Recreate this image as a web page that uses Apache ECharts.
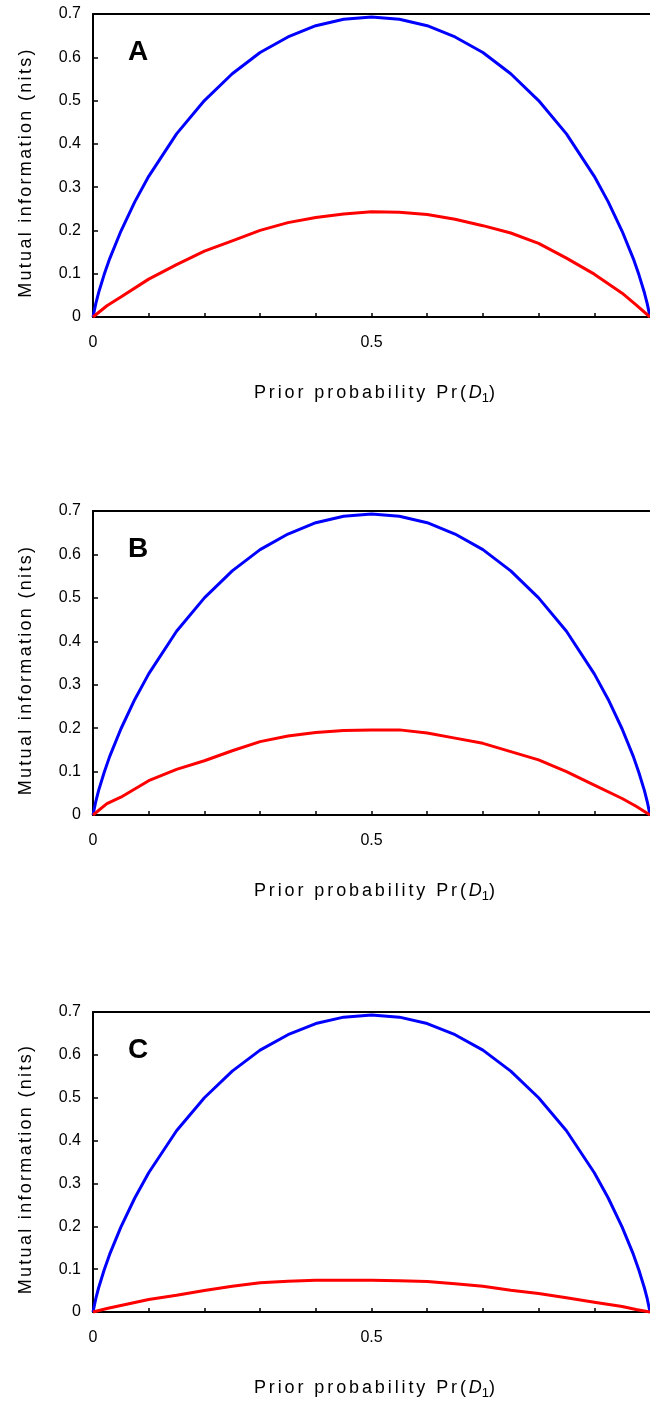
<!DOCTYPE html>
<html>
<head>
<meta charset="utf-8">
<style>
  html, body { margin: 0; padding: 0; background: #fff; overflow: hidden; }
  #chart { width: 650px; height: 1403px; }
</style>
<script src="https://cdn.jsdelivr.net/npm/echarts@6/dist/echarts.min.js"></script>
</head>
<body>
<div id="chart"></div>
<script>
// ---- Data ----
const panelLabels = ['A', 'B', 'C'];
const yTickValues = [0, 0.1, 0.2, 0.3, 0.4, 0.5, 0.6, 0.7];
const xTickLabels = ['0', '0.5', '1'];
const yAxisTitle = 'Mutual information (nits)';
const xAxisTitleMain = 'Prior probability Pr(';

// Blue curve (same in all panels)
const blueP = [0, 0.005, 0.01, 0.02, 0.03, 0.05, 0.075, 0.1, 0.15, 0.2, 0.25, 0.3, 0.35, 0.4, 0.45, 0.5,
               0.55, 0.6, 0.65, 0.7, 0.75, 0.8, 0.85, 0.9, 0.925, 0.95, 0.97, 0.98, 0.99, 0.995, 1];
const blueV = [0, 0.031, 0.056, 0.098, 0.135, 0.198, 0.266, 0.325, 0.423, 0.500, 0.562, 0.611, 0.647, 0.673, 0.688, 0.693,
               0.688, 0.673, 0.647, 0.611, 0.562, 0.500, 0.423, 0.325, 0.266, 0.198, 0.135, 0.098, 0.056, 0.031, 0];

// Red curves
const redP = [0, 0.025, 0.05, 0.1, 0.15, 0.2, 0.25, 0.3, 0.35, 0.4, 0.45, 0.5,
              0.55, 0.6, 0.65, 0.7, 0.75, 0.8, 0.85, 0.9, 0.95, 0.975, 1];
const redA = [0, 0.026, 0.046, 0.0875, 0.121, 0.152, 0.176, 0.200, 0.218, 0.230, 0.238, 0.243,
              0.242, 0.237, 0.226, 0.211, 0.194, 0.170, 0.136, 0.099, 0.055, 0.028, 0];
const redB = [0, 0.026, 0.041, 0.079, 0.105, 0.125, 0.148, 0.169, 0.182, 0.190, 0.1945, 0.196,
              0.196, 0.189, 0.177, 0.165, 0.146, 0.127, 0.100, 0.069, 0.038, 0.020, 0];
const redC = [0, 0.008, 0.015, 0.029, 0.039, 0.050, 0.060, 0.068, 0.072, 0.074, 0.074, 0.074,
              0.073, 0.071, 0.066, 0.060, 0.051, 0.043, 0.033, 0.023, 0.013, 0.006, 0];
const redSets = [redA, redB, redC];

// ---- Wider letter spacing for the two axis titles only (as in the reference) ----
(function () {
  const SPACED = {};
  SPACED[yAxisTitle] = '2.3px';
  SPACED[xAxisTitleMain] = '2.9px';
  const proto = CanvasRenderingContext2D.prototype;
  ['fillText', 'strokeText', 'measureText'].forEach(function (fn) {
    const orig = proto[fn];
    proto[fn] = function (text) {
      const sp = SPACED[text];
      if (sp && ('letterSpacing' in this)) {
        this.save();
        const f = this.font;
        this.letterSpacing = sp;
        this.font = f;
        const r = orig.apply(this, arguments);
        this.restore();
        this.letterSpacing = '0px';
        const f2 = this.font;
        this.font = f2;
        return r;
      }
      return orig.apply(this, arguments);
    };
  });
})();

// ---- Layout ----
const FONT = 'Liberation Sans, Arial, Helvetica, sans-serif';
const panels = [
  { top: 14,   height: 303 },
  { top: 511,  height: 304 },
  { top: 1012, height: 300 }
];
const LEFT = 93;

function pairs(xs, ys) { return xs.map((x, i) => [x, ys[i]]); }

const chart = echarts.init(document.getElementById('chart'), null, { renderer: 'canvas', width: 650, height: 1403 });

const grids = [], xAxes = [], yAxes = [], series = [], graphics = [];
panels.forEach((pn, i) => {
  grids.push({ left: LEFT, top: pn.top, right: 0, height: pn.height, containLabel: false, outerBoundsMode: 'none' });
  xAxes.push({
    type: 'value', gridIndex: i, min: 0, max: 1, interval: 0.1, position: 'bottom',
    axisLine: { show: true, onZero: false, lineStyle: { color: '#000', width: 2 } },
    axisTick: { show: true, inside: true, length: 4, lineStyle: { color: '#000', width: 1.5 } },
    splitLine: { show: false },
    axisLabel: {
      show: true, margin: 18, color: '#000', fontSize: 16, fontFamily: FONT,
      formatter: function (v) {
        if (Math.abs(v) < 1e-9) return xTickLabels[0];
        if (Math.abs(v - 0.5) < 1e-9) return xTickLabels[1];
        if (Math.abs(v - 1) < 1e-9) return '{r|' + xTickLabels[2] + '}';
        return '';
      },
      rich: { r: { fontSize: 16, fontFamily: FONT, color: '#000', padding: [0, 0, 0, 7] } }
    },
    name: '{a|' + xAxisTitleMain + '}{b|D}{c|1}{a|)}',
    nameLocation: 'middle', nameGap: 64,
    nameTextStyle: {
      color: '#000', fontSize: 18, fontFamily: FONT, padding: [0, 0, 0, 6],
      rich: {
        a: { fontSize: 18, fontFamily: FONT, color: '#000', lineHeight: 24 },
        b: { fontSize: 18, fontFamily: FONT, color: '#000', fontStyle: 'italic', lineHeight: 24 },
        c: { fontSize: 13, fontFamily: FONT, color: '#000', verticalAlign: 'bottom', lineHeight: 24 }
      }
    }
  });
  xAxes.push({
    type: 'value', gridIndex: i, min: 0, max: 1, position: 'top',
    axisLine: { show: true, onZero: false, lineStyle: { color: '#000', width: 2 } },
    axisTick: { show: false }, axisLabel: { show: false }, splitLine: { show: false }
  });
  yAxes.push({
    type: 'value', gridIndex: i, min: yTickValues[0], max: yTickValues[yTickValues.length - 1], interval: 0.1,
    axisLine: { show: true, onZero: false, lineStyle: { color: '#000', width: 2 } },
    axisTick: { show: true, inside: true, length: 5, lineStyle: { color: '#000', width: 1.5 } },
    splitLine: { show: false },
    axisLabel: { margin: 12, color: '#000', fontSize: 16, fontFamily: FONT },
    name: yAxisTitle, nameLocation: 'middle', nameGap: 58, nameRotate: 90,
    nameTextStyle: { color: '#000', fontSize: 18, fontFamily: FONT, padding: [0, 14, 0, 0] }
  });
  series.push({
    type: 'line', xAxisIndex: i * 2, yAxisIndex: i, data: pairs(blueP, blueV),
    showSymbol: false, symbol: 'none', smooth: false, animation: false, clip: false,
    lineStyle: { color: '#0000ff', width: 3 }, z: 3
  });
  series.push({
    type: 'line', xAxisIndex: i * 2, yAxisIndex: i, data: pairs(redP, redSets[i]),
    showSymbol: false, symbol: 'none', smooth: false, animation: false, clip: false,
    lineStyle: { color: '#ff0000', width: 3 }, z: 4
  });
  graphics.push({
    type: 'text', x: 128, y: pn.top + 38.5,
    style: { text: panelLabels[i], fill: '#000', font: 'bold 28px ' + FONT, verticalAlign: 'middle', align: 'left' }
  });
});

chart.setOption({
  animation: false,
  backgroundColor: '#fff',
  grid: grids,
  xAxis: xAxes,
  yAxis: yAxes,
  series: series,
  graphic: graphics
});
</script>
</body>
</html>
